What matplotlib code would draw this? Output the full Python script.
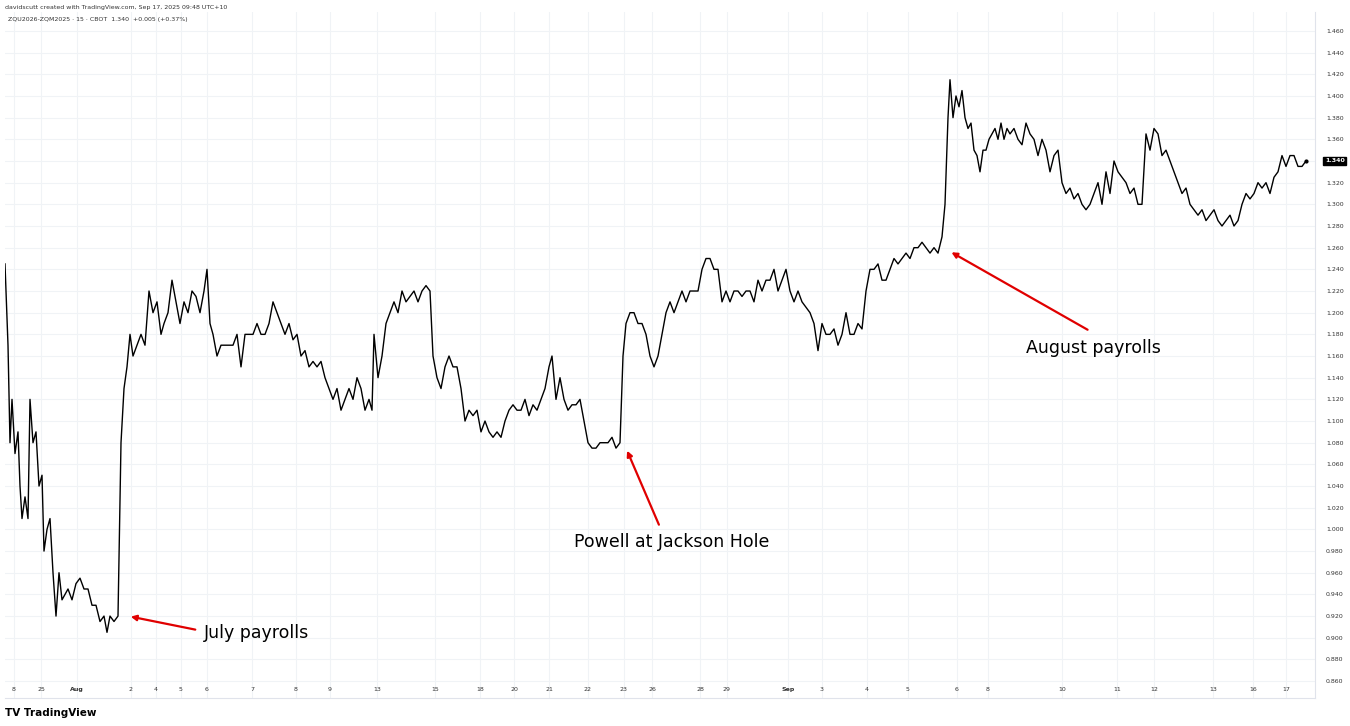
import matplotlib
matplotlib.use("Agg")
import matplotlib.pyplot as plt

bars = [5,8,10,12,15,18,20,22,25,28,30,33,36,39,42,44,47,50,53,56,59,62,65,68,72,76,80,84,88,92,96,100,104,107,110,114,118,121,124,127,130,133,137,141,145,149,153,157,161,164,168,172,176,180,184,188,192,196,200,204,207,210,213,217,221,225,229,233,237,241,245,249,253,257,261,265,269,273,277,281,285,289,293,297,301,305,309,313,317,321,325,329,333,337,341,345,349,353,357,361,365,369,372,374,378,382,386,390,394,398,402,406,410,414,418,422,426,430,433,437,441,445,449,453,457,461,465,469,473,477,481,485,489,493,497,501,505,509,513,517,521,525,529,533,537,541,545,549,552,556,560,564,568,572,576,580,584,588,592,596,600,604,608,612,616,620,623,626,630,634,638,642,646,650,654,658,662,666,670,674,678,682,686,690,694,698,702,706,710,714,718,722,726,730,734,738,742,746,750,754,758,762,766,770,774,778,782,786,790,794,798,802,806,810,814,818,822,826,830,834,838,842,846,850,854,858,862,866,870,874,878,882,886,890,894,898,902,906,910,914,918,922,926,930,934,938,942,945,948,950,953,956,959,962,965,968,971,974,977,980,983,986,989,992,995,998,1001,1004,1007,1010,1014,1018,1022,1026,1030,1034,1038,1042,1046,1050,1054,1058,1062,1066,1070,1074,1078,1082,1086,1090,1094,1098,1102,1106,1110,1114,1118,1122,1126,1130,1134,1138,1142,1146,1150,1154,1158,1162,1166,1170,1174,1178,1182,1186,1190,1194,1198,1202,1206,1210,1214,1218,1222,1226,1230,1234,1238,1242,1246,1250,1254,1258,1262,1266,1270,1274,1278,1282,1286,1290,1294,1298,1302,1306]
values = [1.245,1.17,1.08,1.12,1.07,1.09,1.04,1.01,1.03,1.01,1.12,1.08,1.09,1.04,1.05,0.98,1.00,1.01,0.96,0.92,0.96,0.935,0.94,0.945,0.935,0.95,0.955,0.945,0.945,0.93,0.93,0.915,0.92,0.905,0.92,0.915,0.92,1.08,1.13,1.15,1.18,1.16,1.17,1.18,1.17,1.22,1.20,1.21,1.18,1.19,1.20,1.23,1.21,1.19,1.21,1.20,1.22,1.215,1.20,1.22,1.24,1.19,1.18,1.16,1.17,1.17,1.17,1.17,1.18,1.15,1.18,1.18,1.18,1.19,1.18,1.18,1.19,1.21,1.20,1.19,1.18,1.19,1.175,1.18,1.16,1.165,1.15,1.155,1.15,1.155,1.14,1.13,1.12,1.13,1.11,1.12,1.13,1.12,1.14,1.13,1.11,1.12,1.11,1.18,1.14,1.16,1.19,1.20,1.21,1.20,1.22,1.21,1.215,1.22,1.21,1.22,1.225,1.22,1.16,1.14,1.13,1.15,1.16,1.15,1.15,1.13,1.10,1.11,1.105,1.11,1.09,1.10,1.09,1.085,1.09,1.085,1.10,1.11,1.115,1.11,1.11,1.12,1.105,1.115,1.11,1.12,1.13,1.15,1.16,1.12,1.14,1.12,1.11,1.115,1.115,1.12,1.10,1.08,1.075,1.075,1.08,1.08,1.08,1.085,1.075,1.08,1.16,1.19,1.20,1.20,1.19,1.19,1.18,1.16,1.15,1.16,1.18,1.20,1.21,1.20,1.21,1.22,1.21,1.22,1.22,1.22,1.24,1.25,1.25,1.24,1.24,1.21,1.22,1.21,1.22,1.22,1.215,1.22,1.22,1.21,1.23,1.22,1.23,1.23,1.24,1.22,1.23,1.24,1.22,1.21,1.22,1.21,1.205,1.20,1.19,1.165,1.19,1.18,1.18,1.185,1.17,1.18,1.20,1.18,1.18,1.19,1.185,1.22,1.24,1.24,1.245,1.23,1.23,1.24,1.25,1.245,1.25,1.255,1.25,1.26,1.26,1.265,1.26,1.255,1.26,1.255,1.27,1.30,1.38,1.415,1.38,1.40,1.39,1.405,1.38,1.37,1.375,1.35,1.345,1.33,1.35,1.35,1.36,1.365,1.37,1.36,1.375,1.36,1.37,1.365,1.37,1.36,1.355,1.375,1.365,1.36,1.345,1.36,1.35,1.33,1.345,1.35,1.32,1.31,1.315,1.305,1.31,1.30,1.295,1.30,1.31,1.32,1.30,1.33,1.31,1.34,1.33,1.325,1.32,1.31,1.315,1.30,1.30,1.365,1.35,1.37,1.365,1.345,1.35,1.34,1.33,1.32,1.31,1.315,1.30,1.295,1.29,1.295,1.285,1.29,1.295,1.285,1.28,1.285,1.29,1.28,1.285,1.30,1.31,1.305,1.31,1.32,1.315,1.32,1.31,1.325,1.33,1.345,1.335,1.345,1.345,1.335,1.335,1.34]

tick_bars = [14,41,77,131,156,181,207,252,296,330,377,435,480,514,549,588,624,652,700,727,788,822,867,908,957,988,1062,1117,1154,1213,1253,1286]
tick_labels = ["8","25","Aug","2","4","5","6","7","8","9","13","15","18","20","21","22","23","26","28","29","Sep","3","4","5","6","8","10","11","12","13","16","17"]
y_ticks = [round(0.86 + 0.02*i, 2) for i in range(31)]

fig = plt.figure(figsize=(13.5, 7.26), dpi=100)
ax = fig.add_axes([5/1350, 28/726, 1310/1350, 686/726])
ax.plot(bars, values, color="black", lw=1.0)
ax.set_xlim(5, 1315)
ax.set_ylim(0.8444, 1.4775)
ax.set_xticks(tick_bars)
ax.set_xticklabels(tick_labels)
for t, lab in zip(ax.get_xticklabels(), tick_labels):
    if lab in ("Aug", "Sep"):
        t.set_fontweight("bold")
ax.tick_params(axis="x", length=0, labelsize=4.5, pad=-8, colors="#333333")
ax.set_yticks(y_ticks)
last = values[-1]
ax.set_yticklabels(["" if abs(v - last) < 1e-9 else f"{v:.3f}" for v in y_ticks])
ax.yaxis.tick_right()
ax.tick_params(axis="y", length=0, labelsize=4.5, pad=8, colors="#333333")
ax.grid(True, color="#f0f3f6", lw=0.8)
for s in ax.spines.values():
    s.set_visible(False)
ax.spines["right"].set_visible(True)
ax.spines["right"].set_color("#e0e3eb")
ax.spines["bottom"].set_visible(True)
ax.spines["bottom"].set_color("#e0e3eb")

ax.text(1.0075, last, f"{last:.3f}", transform=ax.get_yaxis_transform(),
        fontsize=4.5, color="white", fontweight="bold", va="center", ha="left",
        bbox=dict(boxstyle="square,pad=0.3", fc="black", ec="black"))
ax.plot([bars[-1]], [last], marker="o", ms=2, color="black")

arrow = dict(arrowstyle="-|>", color="#e00000", lw=1.6, mutation_scale=8)
ax.annotate("", xy=(128, 0.92), xytext=(198, 0.907), arrowprops=arrow)
ax.text(204, 0.9044, "July payrolls", fontsize=12.5, ha="left", va="center")
ax.annotate("", xy=(626, 1.075), xytext=(660, 1.002), arrowprops=arrow)
ax.text(672, 0.988, "Powell at Jackson Hole", fontsize=12.5, ha="center", va="center")
ax.annotate("", xy=(949, 1.257), xytext=(1090, 1.183), arrowprops=arrow)
ax.text(1093, 1.1674, "August payrolls", fontsize=12.5, ha="center", va="center")

fig.text(5/1350, 1-7/726, "davidscutt created with TradingView.com, Sep 17, 2025 09:48 UTC+10",
         fontsize=4.5, color="#333333", va="center")
fig.text(8/1350, 1-19/726, "ZQU2026-ZQM2025 · 15 · CBOT  1.340  +0.005 (+0.37%)",
         fontsize=4.5, color="#333333", va="center")
fig.text(5/1350, 1-713/726, "TV TradingView", fontsize=7.5, fontweight="bold", va="center")

fig.savefig("out.png", dpi=100, facecolor="white")
